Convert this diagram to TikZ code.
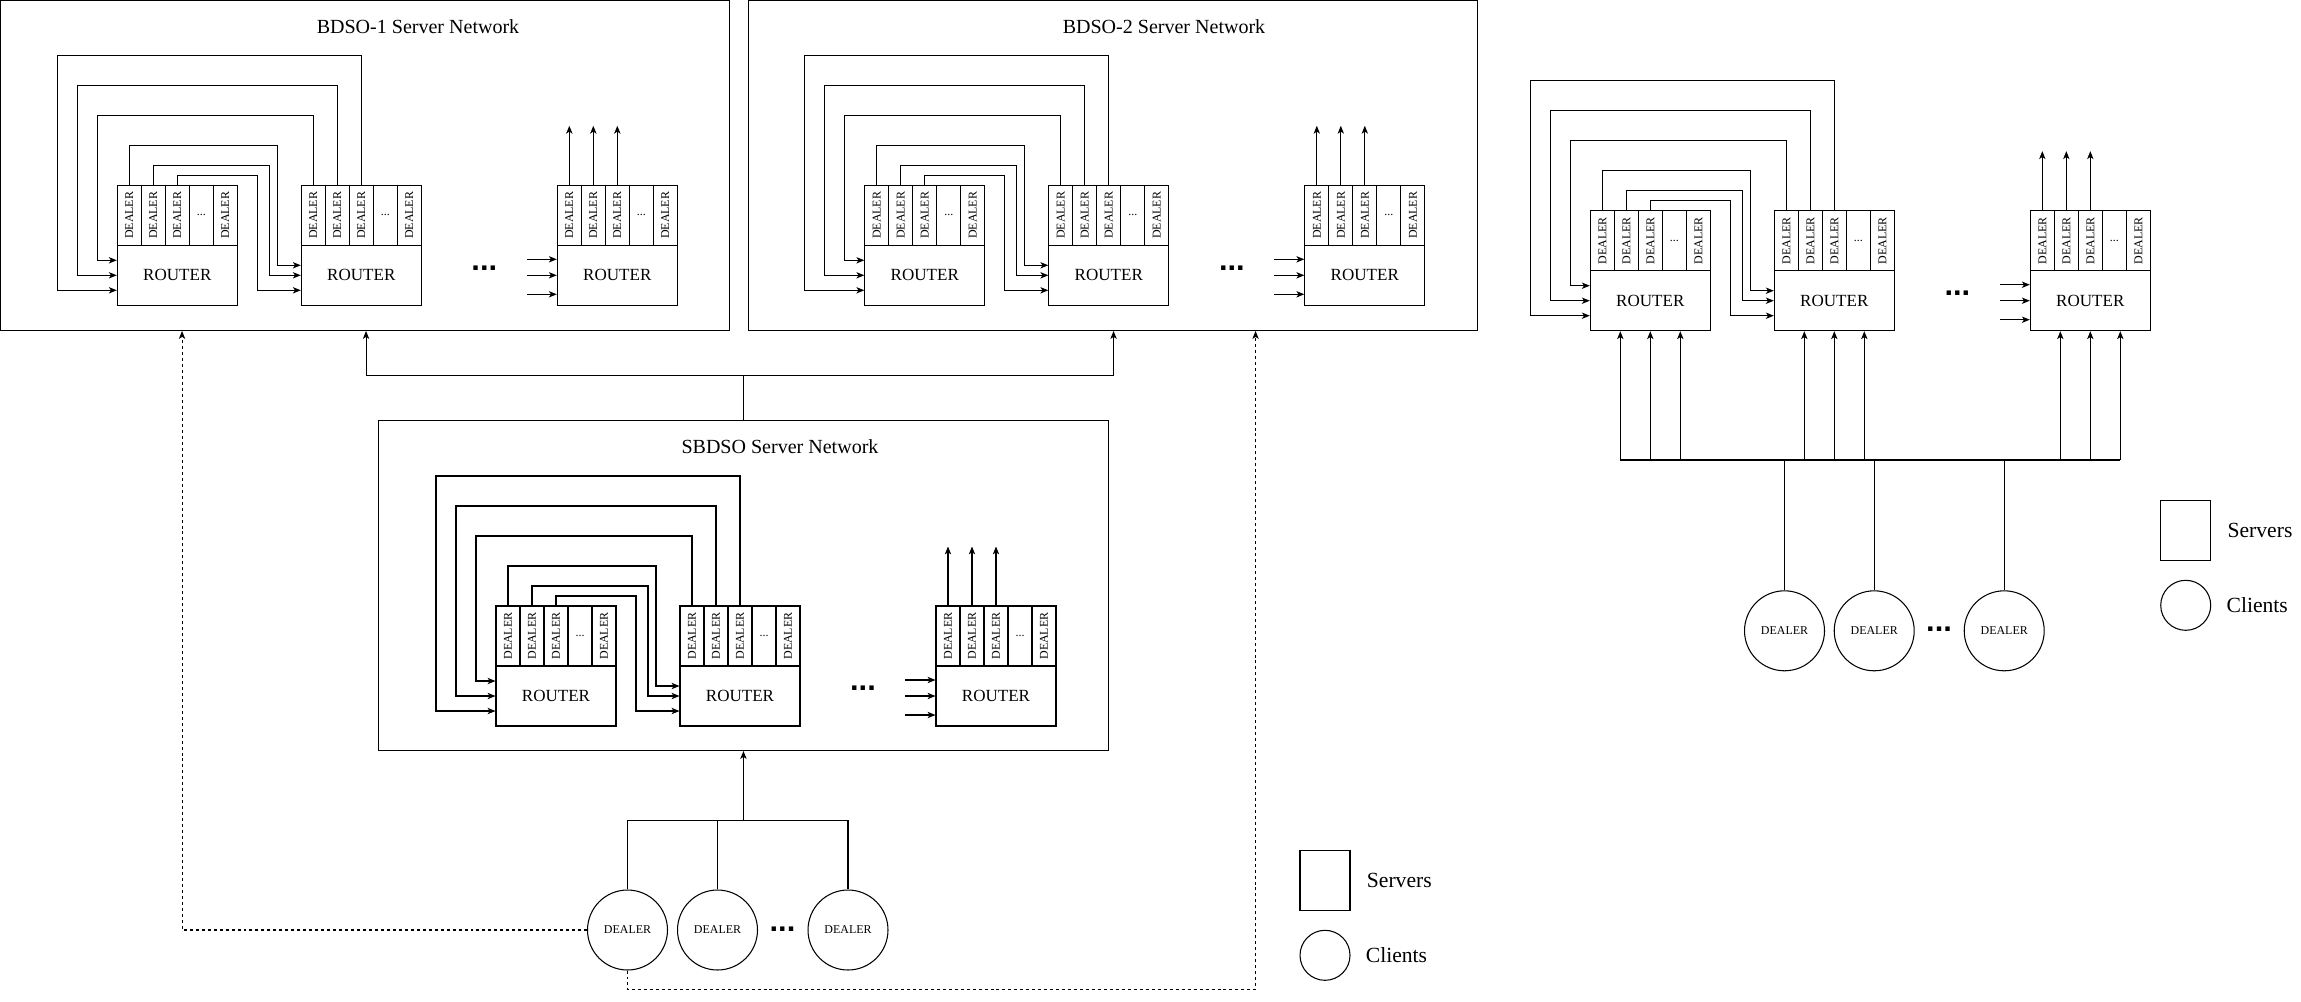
\documentclass[tikz,border=0pt]{standalone}
\usepackage{fontspec}
\setmainfont{Liberation Serif}
\newfontfamily\dotfont{Liberation Sans}
\usetikzlibrary{arrows.meta,calc,positioning}

\tikzset{
  wire/.style={line width=0.6pt},
  link/.style={wire,->},
  dotlink/.style={link,dash pattern=on 1.7pt off 1.7pt},
  netbox/.style={draw,wire,minimum width=14.59cm,minimum height=6.6cm,inner sep=0},
  nettitle/.style={inner sep=0,font=\fontsize{11.4}{13}\selectfont},
  router/.style={draw,wire,minimum width=2.4cm,minimum height=1.2cm,inner sep=0,
    font=\fontsize{9.7}{11}\selectfont},
  dealer/.style={draw,wire,minimum width=0.48cm,minimum height=1.2cm,inner sep=0,
    font=\fontsize{6.8}{8}\selectfont},
  client/.style={draw,wire,circle,minimum size=1.6cm,inner sep=0,
    font=\fontsize{6.8}{8}\selectfont},
  skipdots/.style={anchor=base,inner sep=0,font=\dotfont\bfseries\fontsize{17.5}{18}\selectfont},
  keybox/.style={draw,wire,minimum width=1cm,minimum height=1.2cm,inner sep=0},
  keyring/.style={draw,wire,circle,minimum size=1cm,inner sep=0},
  keytext/.style={inner sep=0,font=\fontsize{12.3}{14}\selectfont},
  netgrp/.pic={
    % routers with their dealer strips
    \foreach \n/\x in {1/0,2/184,3/440}{
      \node[router] (-r\n) at (\x+60,90) {ROUTER};
      \foreach \k in {1,2,3,5}
        \node[dealer] (-d\n\k) at (\x+24*\k-12,30) {\rotatebox{90}{DEALER}};
      \node[dealer] (-d\n4) at (\x+84,30) {...};
    }
    % second router back into the first
    \foreach \k/\x/\y/\a in {3/-60/-130/105,2/-40/-100/90,1/-20/-70/75}
      \draw[link] (-d2\k.north) |- (\x,\y) |- (-r1.west |- 0,\a);
    % first router on to the second
    \foreach \k/\x/\y/\a in {1/160/-40/80,2/152/-20/90,3/140/-10/105}
      \draw[link] (-d1\k.north) |- (\x,\y) |- (-r2.west |- 0,\a);
    % last router
    \foreach \a in {74,90,109}
      \draw[link,<-] (-r3.west |- 0,\a) -- ++(-30,0);
    \foreach \k in {1,2,3}
      \draw[link] (-d3\k.north) -- ++(0,-59);
    \node[skipdots] (-gap) at (367,84.8) {...};
  }
}

\begin{document}
\begin{tikzpicture}[x=0.02cm,y=-0.02cm,>={Stealth[length=4.5pt,width=3.6pt,inset=1.2pt]}]
\useasboundingbox (0,0) rectangle (2301,1001);

% server networks
\node[netbox] (bdso1) at (365.25,165.5) {};
\node[netbox] (bdso2) at (1112.75,165.5) {};
\node[netbox] (sbdso) at (743.45,585.5) {};
\node[nettitle] (t1) at (418,27) {BDSO-1 Server Network};
\node[nettitle] (t2) at (1164,27) {BDSO-2 Server Network};
\node[nettitle] (t3) at (780,447) {SBDSO Server Network};

\pic (bd1) at (117.3,185.3) {netgrp};
\pic (bd2) at (864.8,185.3) {netgrp};
\pic (sb) at (496,606) {netgrp};
\pic (rt) at (1590.3,210.7) {netgrp};

\coordinate (split) at (743.45,375.3);
\draw[wire] (sbdso.north) -- (split);
\draw[link] (split) -| ($(bdso1.south west)+(366,0)$);
\draw[link] (split) -| ($(bdso2.south west)+(366,0)$);

% clients of the SBDSO network
\node[client] (c1) at (627.5,930) {DEALER};
\node[client] (c2) at (717.5,930) {DEALER};
\node[client] (c3) at (848,930) {DEALER};
\node[skipdots] (cgap) at (782.5,931.2) {...};
\coordinate (fork) at (743.45,820.3);
\draw[wire] (c1.north) |- (fork) -| (c3.north);
\draw[wire] (c2.north) -- (c2.north |- fork);
\draw[link] (fork) -- (sbdso.south);
\draw[dotlink] (c1.west) -| ($(bdso1.south west)+(182,0)$);
\draw[dotlink] (c1.south) -- ++(0,19.3) -| ($(bdso2.south west)+(508,0)$);

% clients of the right network
\coordinate (busL) at (1620.3,460);
\coordinate (busR) at (2120.3,460);
\draw[wire] (busL) -- (busR);
\foreach \r in {1,2,3}
  \foreach \f in {-30,0,30}{
    \coordinate (tip) at ($(rt-r\r.south)+(\f,0)$);
    \draw[link] (tip |- busL) -- (tip);
  }
\node[client] (rc1) at (1784.5,630.8) {DEALER};
\node[client] (rc2) at (1874.2,630.8) {DEALER};
\node[client] (rc3) at (2004.2,630.8) {DEALER};
\node[skipdots] (rcgap) at (1939,631.2) {...};
\foreach \i in {1,2,3}
  \draw[wire] (rc\i.north) -- (rc\i.north |- busL);

% legends
\node[keybox] (keyS1) at (1325,880.3) {};
\node[keytext,right=0.32cm of keyS1] (keyS1t) {Servers};
\node[keyring] (keyC1) at (1325,955.3) {};
\node[keytext,right=0.3cm of keyC1] (keyC1t) {Clients};
\node[keybox] (keyS2) at (2185.7,530.3) {};
\node[keytext,right=0.32cm of keyS2] (keyS2t) {Servers};
\node[keyring] (keyC2) at (2185.7,605.3) {};
\node[keytext,right=0.3cm of keyC2] (keyC2t) {Clients};

\end{tikzpicture}
\end{document}
